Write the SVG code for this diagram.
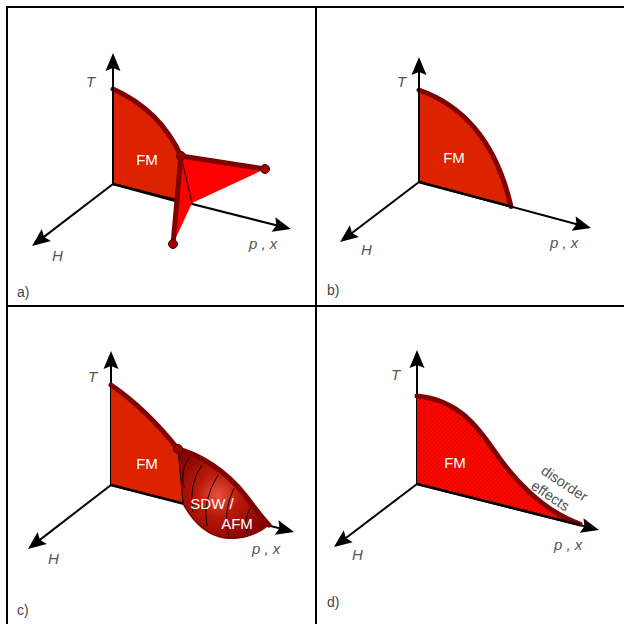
<svg xmlns="http://www.w3.org/2000/svg" width="624" height="624" viewBox="0 0 624 624">
<defs>
<style>
.frame{stroke:#000;stroke-width:2;fill:none}
.axis{stroke:#000;stroke-width:2;fill:none}
.base{stroke:#000;stroke-width:2.6;fill:none}
.lab{font-family:"Liberation Sans",Arial,sans-serif;font-style:italic;font-size:15px;fill:#555}
.pl{font-family:"Liberation Sans",Arial,sans-serif;font-size:14px;fill:#444}
.fm{font-family:"Liberation Sans",Arial,sans-serif;font-size:15px;fill:#fff;text-anchor:middle}
.reg{fill:#dd2200;stroke:none}
.edge{stroke:#800000;stroke-width:5;fill:none;stroke-linecap:round}
.dot{fill:#990000;stroke:#550000;stroke-width:1}
.cont{stroke:#000;stroke-width:0.9;fill:none}
.dis{font-family:"Liberation Sans",Arial,sans-serif;font-size:14.5px;fill:#555}
</style>
<marker id="arr" viewBox="-19 -8 19 16" refX="-8" refY="0" markerWidth="19" markerHeight="16" markerUnits="userSpaceOnUse" orient="auto">
<path d="M0,0 L-18,-7.5 L-15,0 L-18,7.5 Z" fill="#000"/>
</marker>
<pattern id="hatch" width="3" height="3" patternUnits="userSpaceOnUse" patternTransform="rotate(45)">
<rect width="3" height="3" fill="#ff0800"/>
<line x1="0" y1="0" x2="0" y2="3" stroke="#a00000" stroke-width="0.8"/>
</pattern>
<radialGradient id="sdw" cx="218" cy="495" r="55" gradientUnits="userSpaceOnUse">
<stop offset="0" stop-color="#e85040"/>
<stop offset="0.4" stop-color="#b81808"/>
<stop offset="1" stop-color="#800000"/>
</radialGradient>
</defs>

<g id="frame">
<line class="frame" x1="6" y1="7" x2="624" y2="7"/>
<line class="frame" x1="7" y1="6" x2="7" y2="624"/>
<line class="frame" x1="6" y1="306" x2="624" y2="306"/>
<line class="frame" x1="316" y1="6" x2="316" y2="624"/>
</g>

<!-- Panel a -->
<g id="panel-a">
<g id="a-fm">
<path class="reg" d="M113,89 Q160,110 181,156 L176,201 L113,184 Z"/>
<path class="edge" d="M113,89 Q160,110 181,156"/>
<text class="fm" x="147" y="165">FM</text>
</g>
<g id="a-axes">
<line class="axis" x1="113" y1="184" x2="113" y2="61" marker-end="url(#arr)"/>
<line class="axis" x1="113" y1="184" x2="38.4" y2="241.1" marker-end="url(#arr)"/>
<line class="axis" x1="113" y1="184" x2="283.2" y2="227" marker-end="url(#arr)"/>
<line class="base" x1="113" y1="184" x2="176" y2="201"/>
</g>
<g id="a-wings">
<polygon points="181,156 192,203 173,244" fill="#ff0000"/>
<polygon points="181,156 265,169 192,203" fill="#ff0000"/>
<line x1="181" y1="156" x2="192" y2="203" stroke="#000" stroke-width="1"/>
<line class="edge" x1="181" y1="156" x2="173" y2="244"/>
<line class="edge" x1="181" y1="156" x2="265" y2="169"/>
<circle class="dot" cx="181" cy="156" r="4.5"/>
<circle class="dot" cx="265" cy="169" r="4.5"/>
<circle class="dot" cx="173" cy="244" r="4.5"/>
</g>
<text class="lab" x="86" y="87">T</text>
<text class="lab" x="52" y="261">H</text>
<text class="lab" x="249" y="249">p , x</text>
<text class="pl" x="17" y="297">a)</text>
</g>

<!-- Panel b -->
<g id="panel-b">
<g id="b-fm">
<path class="reg" d="M419,90 Q490,115 511,206.5 L419,182 Z"/>
<path class="edge" d="M419,90 Q490,115 511,206.5" stroke-width="4"/>
<text class="fm" x="454" y="163">FM</text>
</g>
<g id="b-axes">
<line class="axis" x1="419" y1="182" x2="419" y2="65" marker-end="url(#arr)"/>
<line class="axis" x1="419" y1="182" x2="346.4" y2="237.2" marker-end="url(#arr)"/>
<line class="axis" x1="419" y1="182" x2="583.3" y2="226" marker-end="url(#arr)"/>
<line class="base" x1="419" y1="182" x2="511" y2="206.5"/>
</g>
<text class="lab" x="397" y="87">T</text>
<text class="lab" x="361" y="255">H</text>
<text class="lab" x="550" y="248">p , x</text>
<text class="pl" x="327" y="295">b)</text>
</g>

<!-- Panel c -->
<g id="panel-c">
<g id="c-axes">
<line class="axis" x1="111" y1="485" x2="111" y2="359" marker-end="url(#arr)"/>
<line class="axis" x1="111" y1="485" x2="34.3" y2="544.1" marker-end="url(#arr)"/>
<line class="axis" x1="111" y1="485" x2="286.3" y2="530" marker-end="url(#arr)"/>
</g>
<g id="c-fm">
<path class="reg" d="M111,385 Q145,408 178,449 L183,503.5 L111,485 Z"/>
<text class="fm" x="147" y="469">FM</text>
</g>
<g id="c-sdw">
<path d="M178,449 C200,455 225,470 245,495 C255,508 262,518 269,525 C260,532 245,540 225,538 C205,535 192,520 183,503.5 Z" fill="url(#sdw)"/>
<path class="cont" d="M189,458 Q180,470 184,488"/>
<path class="cont" d="M202,465 Q188,485 193,512"/>
<path class="cont" d="M218,475 Q202,500 207,526"/>
<path class="cont" d="M234,488 Q222,512 229,538"/>
<path class="cont" d="M251,507 Q243,520 247,534"/>
<line x1="178" y1="449" x2="183" y2="503.5" stroke="#000" stroke-width="1"/>
<path class="edge" d="M111,385 Q145,408 178,449 C200,455 225,470 245,495 C255,508 262,518 269,525"/>
<path d="M269,525 C260,532 245,540 225,538 C205,535 192,520 183,503.5" fill="none" stroke="#800000" stroke-width="1.5"/>
<circle class="dot" cx="178" cy="449" r="4.5"/>
<text class="fm" x="212" y="509">SDW /</text>
<text class="fm" x="237" y="529">AFM</text>
</g>
<line class="base" x1="111" y1="485" x2="183" y2="503.5"/>
<text class="lab" x="88" y="382">T</text>
<text class="lab" x="48" y="564">H</text>
<text class="lab" x="252" y="554">p , x</text>
<text class="pl" x="17" y="615">c)</text>
</g>

<!-- Panel d -->
<g id="panel-d">
<g id="d-axes">
<line class="axis" x1="417" y1="484" x2="417" y2="358" marker-end="url(#arr)"/>
<line class="axis" x1="417" y1="484" x2="340.3" y2="542.2" marker-end="url(#arr)"/>
<line class="axis" x1="417" y1="484" x2="591.3" y2="528" marker-end="url(#arr)"/>
</g>
<g id="d-fm">
<path d="M417,396 C460,400 480,430 495,452 S540,510 580,524 L417,484 Z" fill="url(#hatch)"/>
<path class="edge" d="M417,396 C460,400 480,430 495,452 S540,510 580,524" stroke-width="4"/>
<line class="base" x1="417" y1="484" x2="580" y2="525"/>
<text class="fm" x="455" y="468">FM</text>
</g>
<text class="dis" transform="translate(540,473) rotate(34)">disorder</text>
<text class="dis" transform="translate(530,488) rotate(34)">effects</text>
<text class="lab" x="391" y="380">T</text>
<text class="lab" x="352" y="560">H</text>
<text class="lab" x="554" y="550">p , x</text>
<text class="pl" x="327" y="607">d)</text>
</g>
</svg>
